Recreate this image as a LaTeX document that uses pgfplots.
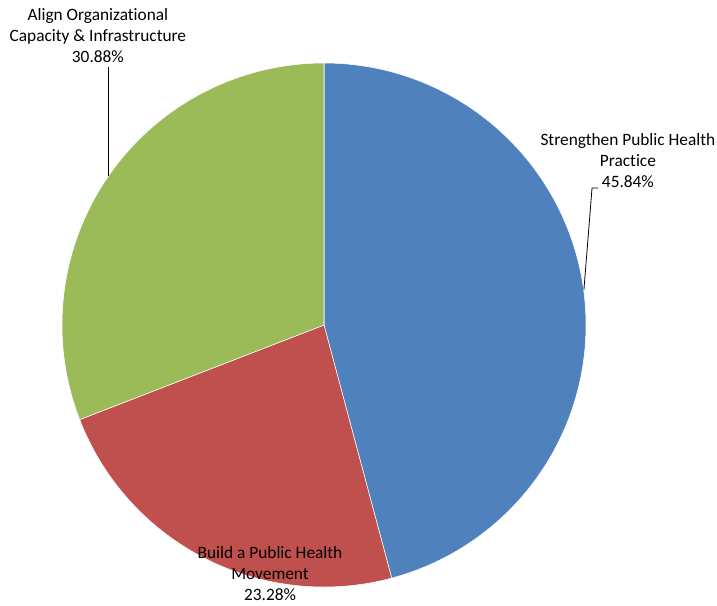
\documentclass[border=0pt]{standalone}
\usepackage{pgfplots}
\pgfplotsset{compat=1.18}
\usepackage{fontspec}
\setmainfont{Carlito}[Ligatures=NoCommon]
\definecolor{cBlue}{HTML}{4F81BD}
\definecolor{cRed}{HTML}{C0504D}
\definecolor{cGreen}{HTML}{9BBB59}
% slice values (percent)
\def\vA{45.84}% Strengthen Public Health Practice
\def\vB{23.28}% Build a Public Health Movement
\def\vC{30.88}% Align Organizational Capacity & Infrastructure
\pgfmathsetmacro\aA{90}
\pgfmathsetmacro\aB{90-3.6*\vA}
\pgfmathsetmacro\aC{\aB-3.6*\vB}
\pgfmathsetmacro\aD{\aC-3.6*\vC}
\tikzset{lbl/.style={font=\fontsize{13pt}{15.75pt}\selectfont, align=center, text=black, inner sep=0pt}}
\begin{document}
\begin{tikzpicture}
\begin{axis}[
  hide axis,
  x=196.5pt, y=196.5pt,
  xmin=-1.2366, xmax=1.5,
  ymin=-1.0687, ymax=1.2405,
  clip=false,
]
\path (axis cs:-1.2366,-1.0687) rectangle (axis cs:1.5,1.2405);
\addplot[fill=cBlue, draw=white, line width=0.4pt, domain=\aB:\aA, samples=150, variable=\t] ({cos(t)},{sin(t)}) -- (axis cs:0,0) -- cycle;
\addplot[fill=cRed, draw=white, line width=0.4pt, domain=\aC:\aB, samples=100, variable=\t] ({cos(t)},{sin(t)}) -- (axis cs:0,0) -- cycle;
\addplot[fill=cGreen, draw=white, line width=0.4pt, domain=\aD:\aC, samples=120, variable=\t] ({cos(t)},{sin(t)}) -- (axis cs:0,0) -- cycle;
% leader lines
\addplot[black, line width=0.6pt] coordinates {(0.992,0.134) (1.023,0.523) (1.046,0.523)};
\addplot[black, line width=0.6pt] coordinates {(-0.824,0.569) (-0.824,0.985)};
% labels
\node[lbl] at (axis cs:1.160,0.626) {Strengthen Public Health\\Practice\\45.84\%};
\node[lbl] at (axis cs:-0.863,1.103) {Align Organizational\\Capacity \& Infrastructure\\30.88\%};
\node[lbl] at (axis cs:-0.206,-0.950) {Build a Public Health\\Movement\\23.28\%};
\end{axis}
\end{tikzpicture}
\end{document}
